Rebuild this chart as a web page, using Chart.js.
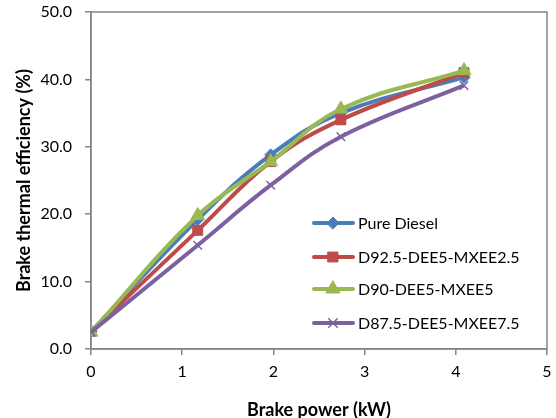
<!DOCTYPE html>
<html>
<head>
<meta charset="utf-8">
<script src="https://cdn.jsdelivr.net/npm/chart.js@4"></script>
<style>
  html, body { margin: 0; padding: 0; background: #fff; }
  #wrap { width: 556px; height: 418px; }
</style>
</head>
<body>
<div id="wrap"><canvas id="c" width="556" height="418"></canvas></div>
<script>
// brake power (kW) at each load step
const power = [0, 1.17, 1.97, 2.74, 4.09]

const pureDiesel = [2.6, 19.2, 28.8, 35.0, 40.3]
const d925 = [2.6, 17.6, 27.8, 34.0, 41.0]
const d90 = [2.5, 19.8, 27.8, 35.6, 41.3]
const d875 = [2.5, 15.4, 24.3, 31.5, 39.1]

const seriesNames = ['Pure Diesel', 'D92.5-DEE5-MXEE2.5', 'D90-DEE5-MXEE5', 'D87.5-DEE5-MXEE7.5']
const yTicks = [0, 10, 20, 30, 40, 50]
const xTicks = [0, 1, 2, 3, 4, 5]

const FONT = 'Lato, "Open Sans", sans-serif'
const AXIS = '#868686'

const pts = ys => ys.map((y, i) => ({ x: power[i], y: y }))

const mkSet = (label, ys, color, style, radius, order, bw) => ({
  label: label,
  data: pts(ys),
  borderColor: color,
  backgroundColor: color,
  borderWidth: 4,
  pointStyle: style,
  pointRadius: radius,
  pointBorderWidth: bw,
  pointBackgroundColor: color,
  pointBorderColor: color,
  tension: 0.4,
  order: order
})

// frame round the plot area (top + right sides)
const frame = {
  id: 'frame',
  beforeDatasetsDraw(chart) {
    const { ctx, chartArea: a } = chart
    ctx.save()
    ctx.strokeStyle = AXIS
    ctx.lineWidth = 1.5
    ctx.strokeRect(a.left, a.top, a.right - a.left, a.bottom - a.top)
    ctx.restore()
  }
}

// legend drawn inside the plot, like the excel one
const innerLegend = {
  id: 'innerLegend',
  afterDraw(chart) {
    const ctx = chart.ctx
    const rows = [223, 257, 289, 323]
    ctx.save()
    chart.data.datasets.forEach((ds, i) => {
      const y = rows[i]
      ctx.strokeStyle = ds.borderColor
      ctx.lineWidth = 4
      ctx.lineCap = 'round'
      ctx.beginPath()
      ctx.moveTo(314, y)
      ctx.lineTo(353, y)
      ctx.stroke()
      ctx.fillStyle = ds.borderColor
      ctx.lineWidth = ds.pointBorderWidth
      Chart.helpers.drawPoint(ctx, { pointStyle: ds.pointStyle, radius: ds.pointRadius, rotation: 0, borderWidth: ds.pointBorderWidth }, 333, y)
      ctx.fillStyle = '#000'
      ctx.font = '16px ' + FONT
      ctx.textBaseline = 'middle'
      ctx.fillText(ds.label, 358, y + 1)
    })
    ctx.restore()
  }
}

new Chart(document.getElementById('c'), {
  type: 'line',
  data: {
    datasets: [
      mkSet(seriesNames[0], pureDiesel, '#4A7EBB', 'rectRot', 6, 4, 1),
      mkSet(seriesNames[1], d925, '#BE4B48', 'rect', 7, 3, 1),
      mkSet(seriesNames[2], d90, '#98B954', 'triangle', 8, 2, 1),
      mkSet(seriesNames[3], d875, '#7D60A0', 'crossRot', 6, 1, 1.5)
    ]
  },
  options: {
    responsive: false,
    animation: false,
    layout: { padding: { top: 12, right: 7, left: 0, bottom: 0 } },
    plugins: { legend: { display: false }, tooltip: { enabled: false } },
    scales: {
      x: {
        type: 'linear',
        min: 0,
        max: 5,
        afterBuildTicks: s => { s.ticks = xTicks.map(v => ({ value: v })) },
        afterFit: s => { s.height = 69; s.paddingLeft = 0; s.paddingRight = 0 },
        grid: { drawOnChartArea: false, color: AXIS, tickLength: 6, lineWidth: 1.5 },
        border: { color: AXIS, width: 1.5 },
        ticks: { color: '#000', font: { family: FONT, size: 16 }, padding: 7, callback: v => String(v) },
        title: { display: true, text: 'Brake power (kW)', color: '#000', font: { family: FONT, size: 18, weight: 'bold' }, padding: { top: 0, bottom: -3 } }
      },
      y: {
        min: 0,
        max: 50,
        afterBuildTicks: s => { s.ticks = yTicks.map(v => ({ value: v })) },
        afterFit: s => { s.width = 91; s.paddingTop = 0; s.paddingBottom = 0 },
        grid: { drawOnChartArea: false, color: AXIS, tickLength: 6, lineWidth: 1.5 },
        border: { color: AXIS, width: 1.5 },
        ticks: { color: '#000', font: { family: FONT, size: 16 }, padding: 13, callback: v => v.toFixed(1) },
        title: { display: true, text: 'Brake thermal efficiency (%)', color: '#000', font: { family: FONT, size: 18, weight: 'bold' }, padding: { top: 13, bottom: 0 } }
      }
    }
  },
  plugins: [frame, innerLegend]
})
</script>
</body>
</html>
